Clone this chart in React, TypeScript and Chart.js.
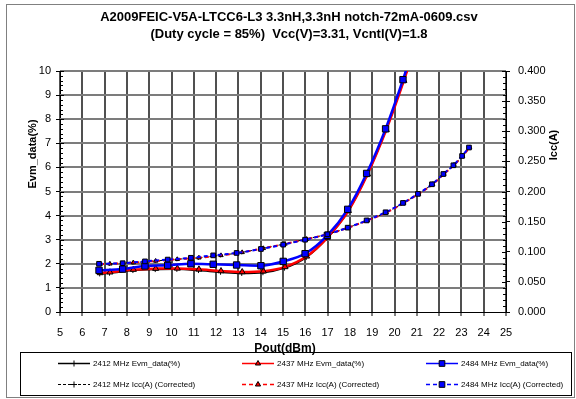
import React, { useEffect, useRef } from "react";
import { Chart, registerables } from "chart.js";

Chart.register(...registerables);

const TITLE_LINES = [
  "A2009FEIC-V5A-LTCC6-L3 3.3nH,3.3nH notch-72mA-0609.csv",
  "(Duty cycle = 85%)  Vcc(V)=3.31, Vcntl(V)=1.8",
];
const X_TITLE = "Pout(dBm)";
const Y_TITLE = "Evm_data(%)";
const Y2_TITLE = "Icc(A)";

const EVM_TICKS = [1, 2, 3, 4, 5, 6, 7, 8, 9, 10];

// 2412 MHz
const pout2412 = [6.78, 7.22, 8.27, 9.27, 10.24, 11.21, 12.2, 13.15, 14.1, 15.07, 16.04, 16.97, 17.91, 18.77, 19.61, 20.4, 21.06, 21.69, 22.2, 22.65, 23.04, 23.35];
const evm2412 = [1.58, 1.61, 1.72, 1.76, 1.77, 1.72, 1.65, 1.6, 1.63, 1.82, 2.26, 3.05, 4.16, 5.68, 7.52, 9.56, 11.4, 13.3, 15.0, 16.6, 18.0, 19.1];
const icc2412 = [0.0795, 0.08, 0.082, 0.0847, 0.0875, 0.09, 0.094, 0.099, 0.1057, 0.113, 0.121, 0.129, 0.14, 0.152, 0.165, 0.181, 0.196, 0.212, 0.229, 0.244, 0.259, 0.273];

// 2437 MHz
const pout2437 = [6.8, 7.24, 8.29, 9.29, 10.26, 11.23, 12.22, 13.17, 14.12, 15.09, 16.06, 16.99, 17.93, 18.79, 19.63, 20.42, 21.08, 21.71, 22.22, 22.67, 23.06, 23.37];
const evm2437 = [1.62, 1.65, 1.76, 1.8, 1.81, 1.77, 1.7, 1.66, 1.69, 1.87, 2.31, 3.09, 4.2, 5.72, 7.56, 9.6, 11.5, 13.4, 15.1, 16.7, 18.1, 19.2];
const icc2437 = [0.0795, 0.08, 0.082, 0.0847, 0.0875, 0.09, 0.094, 0.099, 0.1057, 0.113, 0.121, 0.129, 0.14, 0.152, 0.165, 0.181, 0.196, 0.212, 0.229, 0.244, 0.259, 0.273];

// 2484 MHz
const pout2484 = [6.75, 7.81, 8.81, 9.83, 10.87, 11.87, 12.92, 14.01, 15.01, 15.99, 16.99, 17.9, 18.75, 19.6, 20.38, 21.05, 21.68, 22.19, 22.64, 23.03, 23.34];
const evm2484 = [1.73, 1.78, 1.91, 1.94, 2.0, 1.98, 1.95, 1.92, 2.1, 2.42, 3.18, 4.26, 5.75, 7.6, 9.64, 11.6, 13.5, 15.2, 16.8, 18.2, 19.3];
const icc2484 = [0.08, 0.081, 0.084, 0.087, 0.09, 0.094, 0.098, 0.1046, 0.1118, 0.12, 0.129, 0.14, 0.152, 0.1655, 0.181, 0.196, 0.212, 0.229, 0.2435, 0.259, 0.273];

const LABELS = [
  "2412 MHz Evm_data(%)",
  "2437 MHz Evm_data(%)",
  "2484 MHz Evm_data(%)",
  "2412 MHz Icc(A) (Corrected)",
  "2437 MHz Icc(A) (Corrected)",
  "2484 MHz Icc(A) (Corrected)",
];

const FONT = "'Liberation Sans', Arial, Helvetica, sans-serif";
const HGRID = "#7c7c7c";
const VGRID = "#505050";

function pts(xs: number[], ys: number[]) {
  return xs.map((x, i) => ({ x, y: ys[i] }));
}

function drawMarker(ctx: CanvasRenderingContext2D, style: string, x: number, y: number, r: number, fill: string) {
  ctx.save();
  ctx.setLineDash([]);
  ctx.lineWidth = 1;
  ctx.strokeStyle = "#000";
  ctx.fillStyle = fill;
  ctx.beginPath();
  if (style === "rect") {
    const s = r * Math.SQRT1_2;
    ctx.rect(x - s, y - s, 2 * s, 2 * s);
    ctx.fill();
    ctx.stroke();
  } else if (style === "triangle") {
    ctx.moveTo(x, y - r);
    ctx.lineTo(x + r * 0.87, y + r * 0.5);
    ctx.lineTo(x - r * 0.87, y + r * 0.5);
    ctx.closePath();
    ctx.fill();
    ctx.stroke();
  } else {
    ctx.moveTo(x - r, y);
    ctx.lineTo(x + r, y);
    ctx.moveTo(x, y - r);
    ctx.lineTo(x, y + r);
    ctx.stroke();
  }
  ctx.restore();
}

const decor = {
  id: "decor",
  beforeDraw(chart: any) {
    const ctx = chart.ctx as CanvasRenderingContext2D;
    ctx.save();
    ctx.fillStyle = "#fff";
    ctx.fillRect(0, 0, chart.width, chart.height);
    ctx.restore();
  },
  beforeDatasetsDraw(chart: any) {
    const ctx = chart.ctx as CanvasRenderingContext2D;
    const area = chart.chartArea;
    const y = chart.scales.y;
    ctx.save();
    ctx.fillStyle = HGRID;
    EVM_TICKS.forEach((v) => {
      const py = Math.round(y.getPixelForValue(v));
      ctx.fillRect(area.left, py - 1, area.right - area.left, 2);
    });
    ctx.restore();
  },
  afterDraw(chart: any) {
    const ctx = chart.ctx as CanvasRenderingContext2D;
    const { left, right } = chart.chartArea;
    const y = chart.scales.y;
    const y2 = chart.scales.y2;
    ctx.save();
    ctx.setLineDash([]);
    // outer frame
    ctx.strokeStyle = "#808080";
    ctx.lineWidth = 1;
    ctx.strokeRect(6.5, 4.5, 568, 393);

    // minor / inner ticks
    ctx.strokeStyle = "#000";
    ctx.beginPath();
    for (let i = 0; i <= 50; i++) {
      const v = i * 0.2;
      const py = Math.round(y.getPixelForValue(v)) + 0.5;
      const len = i % 5 === 0 ? 4 : 3;
      ctx.moveTo(left, py);
      ctx.lineTo(left + len, py);
    }
    for (let i = 0; i <= 40; i++) {
      const v = i * 0.01;
      const py = Math.round(y2.getPixelForValue(v)) + 0.5;
      const len = i % 5 === 0 ? 4 : 3;
      ctx.moveTo(right, py);
      ctx.lineTo(right - len, py);
    }
    ctx.stroke();

    // title
    ctx.fillStyle = "#000";
    ctx.textAlign = "center";
    ctx.textBaseline = "middle";
    ctx.font = `bold 13px ${FONT}`;
    ctx.fillText(TITLE_LINES[0], 289, 17);
    ctx.fillText(TITLE_LINES[1], 289, 34);

    // axis titles
    ctx.font = `bold 12px ${FONT}`;
    ctx.fillText(X_TITLE, (left + right) / 2 + 2, 349);
    ctx.font = `bold 11px ${FONT}`;
    ctx.save();
    ctx.translate(33, 154);
    ctx.rotate(-Math.PI / 2);
    ctx.fillText(Y_TITLE, 0, 0);
    ctx.restore();
    ctx.save();
    ctx.translate(554, 145);
    ctx.rotate(-Math.PI / 2);
    ctx.fillText(Y2_TITLE, 0, 0);
    ctx.restore();

    // legend
    ctx.strokeStyle = "#000";
    ctx.lineWidth = 1;
    ctx.strokeRect(20.5, 352.5, 551, 43);
    const cols = [58, 242, 426];
    const rows = [363.5, 384.5];
    [0, 1, 2, 3, 4, 5].forEach((k, idx) => {
      const ds = chart.data.datasets[k];
      const cx = cols[idx % 3];
      const cy = rows[Math.floor(idx / 3)];
      ctx.save();
      ctx.strokeStyle = ds.borderColor;
      ctx.lineWidth = Math.min(ds.borderWidth, 1.5);
      ctx.setLineDash(ds.borderDash || []);
      ctx.beginPath();
      ctx.moveTo(cx, cy);
      ctx.lineTo(cx + 32, cy);
      ctx.stroke();
      ctx.restore();
      drawMarker(ctx, ds.pointStyle, cx + 16, cy, ds.pointStyle === "rect" ? 4 : 3, ds.pointBackgroundColor);
      ctx.fillStyle = "#000";
      ctx.textAlign = "left";
      ctx.textBaseline = "middle";
      ctx.font = `8px ${FONT}`;
      ctx.fillText(LABELS[k], cx + 35, cy + 0.5);
    });
    ctx.restore();
  },
};

export default function App() {
  const ref = useRef<HTMLCanvasElement | null>(null);
  useEffect(() => {
    document.body.style.margin = "0";
    const canvas = ref.current;
    if (!canvas) return;
    const common = {
      showLine: true,
      fill: false,
      cubicInterpolationMode: "monotone" as const,
      pointBorderColor: "#000",
      pointBorderWidth: 1,
    };
    const chart = new Chart(canvas, {
      type: "scatter",
      data: {
        datasets: [
          { ...common, label: LABELS[0], data: pts(pout2412, evm2412), yAxisID: "y", borderColor: "#000", borderWidth: 1.5, pointStyle: "cross", pointRadius: 2.5, pointBackgroundColor: "#000", order: 6 } as any,
          { ...common, label: LABELS[1], data: pts(pout2437, evm2437), yAxisID: "y", borderColor: "#ff0000", borderWidth: 2.5, pointStyle: "triangle", pointRadius: 3.5, pointBackgroundColor: "#ff0000", order: 5 } as any,
          { ...common, label: LABELS[2], data: pts(pout2484, evm2484), yAxisID: "y", borderColor: "#0000ff", borderWidth: 2.5, pointStyle: "rect", pointRadius: 4.5, pointBackgroundColor: "#0000ff", order: 4 } as any,
          { ...common, label: LABELS[3], data: pts(pout2412, icc2412), yAxisID: "y2", borderColor: "#000", borderWidth: 1, borderDash: [3, 2], pointStyle: "cross", pointRadius: 2, pointBackgroundColor: "#000", order: 3 } as any,
          { ...common, label: LABELS[4], data: pts(pout2437, icc2437), yAxisID: "y2", borderColor: "#ff0000", borderWidth: 2, borderDash: [4, 3], pointStyle: "triangle", pointRadius: 2.5, pointBackgroundColor: "#ff0000", order: 2 } as any,
          { ...common, label: LABELS[5], data: pts(pout2484, icc2484), yAxisID: "y2", borderColor: "#0000ff", borderWidth: 2, borderDash: [4, 3], pointStyle: "rect", pointRadius: 3.3, pointBackgroundColor: "#0000ff", order: 1 } as any,
        ],
      },
      options: {
        responsive: false,
        animation: false,
        devicePixelRatio: 1,
        events: [],
        layout: { padding: { top: 71, left: 0, right: 0, bottom: 0 } },
        plugins: {
          legend: { display: false },
          title: { display: false },
          tooltip: { enabled: false },
        },
        scales: {
          x: {
            type: "linear",
            min: 5,
            max: 25,
            ticks: { stepSize: 1, color: "#000", font: { family: FONT, size: 11 }, padding: 10 },
            grid: { color: VGRID, lineWidth: 2, tickLength: 4, tickColor: "#000", tickWidth: 1 },
            border: { color: "#000", width: 1 },
            afterFit: (s: any) => { s.height = 87; },
          },
          y: {
            type: "linear",
            position: "left",
            min: 0,
            max: 10,
            ticks: { stepSize: 1, color: "#000", font: { family: FONT, size: 11 }, padding: 5 },
            grid: { drawOnChartArea: false, tickLength: 4, tickColor: "#000" },
            border: { color: "#000", width: 1 },
            afterFit: (s: any) => { s.width = 60; },
          },
          y2: {
            type: "linear",
            position: "right",
            min: 0,
            max: 0.4,
            ticks: {
              stepSize: 0.05,
              color: "#000",
              font: { family: FONT, size: 11 },
              padding: 8,
              callback: (v: any) => Number(v).toFixed(3),
            },
            grid: { drawOnChartArea: false, tickLength: 4, tickColor: "#000" },
            border: { color: "#000", width: 1 },
            afterFit: (s: any) => { s.width = 70; },
          },
        },
      },
      plugins: [decor as any],
    });
    return () => chart.destroy();
  }, []);
  return <canvas ref={ref} width={576} height={399} style={{ display: "block" }} />;
}
